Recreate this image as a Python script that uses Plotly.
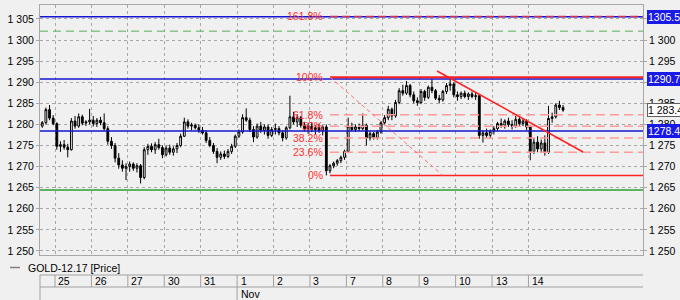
import plotly.graph_objects as go

# ---------------- data ----------------
day_labels = ["25", "26", "27", "30", "31", "1", "2", "3", "7", "8", "9", "10", "13", "14"]
month_label = "Nov"
month_day_index = 5
bars_per_day = 10
first_day_bars = 4  # partial session of the 24th

opens = [
    1279.6, 1280.4, 1283.5, 1281.5,
    1280.2, 1274.8, 1275.2, 1274.6, 1274.0, 1280.8, 1279.6, 1281.8, 1280.3, 1280.6,
    1281.0, 1280.2, 1281.0, 1280.4, 1279.0, 1276.0, 1275.0, 1272.0, 1270.4, 1269.6,
    1270.0, 1270.6, 1269.6, 1270.2, 1267.4, 1274.0, 1274.8, 1274.0, 1275.2, 1274.5,
    1272.8, 1274.4, 1273.4, 1274.2, 1275.0, 1277.2, 1280.6, 1279.6, 1279.8, 1279.2,
    1278.6, 1278.0, 1276.2, 1275.0, 1273.6, 1272.2, 1273.0, 1272.4, 1273.6, 1274.8,
    1277.2, 1278.2, 1281.6, 1281.0, 1278.8, 1277.0, 1279.6, 1278.6, 1279.4, 1277.4,
    1278.8, 1279.0, 1278.0, 1276.8, 1279.2, 1281.8, 1280.6, 1281.6, 1279.8, 1279.0,
    1279.6, 1278.8, 1279.2, 1278.6, 1279.4, 1269.0, 1270.2, 1270.8, 1271.4, 1272.2,
    1273.6, 1279.6, 1278.8, 1279.4, 1279.0, 1279.8, 1276.8, 1277.8, 1276.9, 1278.2,
    1280.4, 1281.6, 1283.6, 1282.0, 1285.2, 1288.0, 1287.4, 1289.2, 1287.0, 1285.6,
    1285.2, 1287.8, 1286.4, 1288.8, 1288.0, 1286.2, 1285.8, 1287.8, 1289.2, 1289.6,
    1287.0, 1286.6, 1287.4, 1286.6, 1287.2, 1286.6, 1286.8, 1277.4, 1278.0, 1277.4,
    1278.4, 1279.0, 1280.2, 1279.8, 1280.8, 1280.0, 1279.6, 1281.2, 1280.2, 1280.8,
    1279.4, 1273.6, 1275.8, 1274.2, 1275.6, 1273.4, 1281.4, 1281.8, 1284.6, 1284.0,
]
highs = [
    1280.8, 1284.0, 1284.6, 1282.2,
    1280.5, 1276.0, 1276.3, 1275.4, 1281.5, 1282.0, 1282.6, 1282.3, 1281.0, 1283.7,
    1282.0, 1281.5, 1281.8, 1282.6, 1279.6, 1277.0, 1275.6, 1273.2, 1271.5, 1270.8,
    1271.2, 1271.0, 1270.8, 1270.6, 1274.6, 1275.4, 1275.5, 1275.8, 1276.6, 1275.0,
    1275.0, 1275.2, 1274.8, 1275.6, 1277.8, 1281.6, 1281.2, 1280.4, 1280.2, 1280.0,
    1279.4, 1278.6, 1277.0, 1275.6, 1274.4, 1273.6, 1273.8, 1274.2, 1275.4, 1277.6,
    1278.8, 1282.4, 1283.8, 1281.6, 1279.6, 1280.2, 1280.6, 1280.0, 1280.0, 1279.4,
    1280.2, 1279.6, 1278.6, 1279.6, 1286.8, 1283.0, 1282.4, 1282.0, 1280.6, 1280.4,
    1280.6, 1279.8, 1280.2, 1279.8, 1280.0, 1270.6, 1271.2, 1271.8, 1272.6, 1274.0,
    1281.6, 1280.4, 1280.0, 1280.2, 1282.6, 1280.2, 1278.4, 1278.2, 1278.6, 1280.8,
    1282.2, 1284.4, 1284.0, 1285.8, 1288.6, 1289.4, 1290.3, 1289.6, 1287.8, 1286.4,
    1288.4, 1288.2, 1289.2, 1290.8, 1288.4, 1287.0, 1288.2, 1289.8, 1290.8, 1290.0,
    1287.8, 1287.8, 1288.0, 1287.6, 1287.8, 1287.6, 1287.2, 1278.6, 1279.0, 1278.8,
    1279.6, 1280.6, 1281.4, 1281.2, 1281.6, 1281.0, 1282.0, 1281.8, 1281.4, 1281.2,
    1279.8, 1276.8, 1277.2, 1276.4, 1277.4, 1284.4, 1282.8, 1285.0, 1285.6, 1284.6,
]
lows = [
    1279.2, 1280.0, 1281.0, 1279.8,
    1274.0, 1273.5, 1274.0, 1272.2, 1273.8, 1279.0, 1279.2, 1279.8, 1279.6, 1280.0,
    1279.5, 1279.4, 1279.8, 1278.5, 1275.2, 1274.2, 1271.0, 1269.5, 1268.8, 1266.8,
    1268.8, 1269.0, 1268.6, 1266.0, 1267.0, 1272.8, 1273.4, 1273.0, 1274.0, 1272.0,
    1272.4, 1272.8, 1272.6, 1273.2, 1274.6, 1277.0, 1279.0, 1278.6, 1278.8, 1278.0,
    1277.6, 1275.6, 1274.6, 1273.0, 1270.8, 1271.6, 1271.8, 1272.0, 1273.0, 1274.4,
    1276.8, 1277.8, 1280.6, 1278.2, 1275.8, 1276.6, 1278.0, 1277.6, 1276.6, 1277.0,
    1277.6, 1277.4, 1276.0, 1276.4, 1278.8, 1280.0, 1279.4, 1279.2, 1278.4, 1277.8,
    1278.2, 1277.6, 1278.0, 1277.4, 1267.9, 1268.4, 1269.6, 1270.2, 1270.8, 1271.6,
    1273.2, 1278.4, 1278.2, 1278.4, 1278.6, 1275.0, 1276.2, 1276.4, 1276.4, 1277.8,
    1279.8, 1281.0, 1281.0, 1281.6, 1284.8, 1286.8, 1287.0, 1286.4, 1285.0, 1284.4,
    1284.8, 1285.6, 1286.0, 1287.4, 1285.8, 1285.0, 1285.4, 1287.2, 1288.0, 1286.4,
    1285.6, 1286.0, 1286.2, 1285.8, 1286.2, 1285.8, 1276.6, 1275.7, 1276.8, 1276.6,
    1277.6, 1278.4, 1279.2, 1279.0, 1279.4, 1278.8, 1279.2, 1279.6, 1279.6, 1278.6,
    1271.5, 1273.0, 1273.4, 1273.4, 1272.6, 1273.0, 1280.4, 1281.4, 1283.4, 1283.0,
]
closes = [
    1280.4, 1283.5, 1281.5, 1280.2,
    1274.8, 1275.2, 1274.6, 1274.0, 1280.8, 1279.6, 1281.8, 1280.3, 1280.6, 1281.0,
    1280.2, 1281.0, 1280.4, 1279.0, 1276.0, 1275.0, 1272.0, 1270.4, 1269.6, 1270.0,
    1270.6, 1269.6, 1270.2, 1267.4, 1274.0, 1274.8, 1274.0, 1275.2, 1274.5, 1272.8,
    1274.4, 1273.4, 1274.2, 1275.0, 1277.2, 1280.6, 1279.6, 1279.8, 1279.2, 1278.6,
    1278.0, 1276.2, 1275.0, 1273.6, 1272.2, 1273.0, 1272.4, 1273.6, 1274.8, 1277.2,
    1278.2, 1281.6, 1281.0, 1278.8, 1277.0, 1279.6, 1278.6, 1279.4, 1277.4, 1278.8,
    1279.0, 1278.0, 1276.8, 1279.2, 1281.8, 1280.6, 1281.6, 1279.8, 1279.0, 1279.6,
    1278.8, 1279.2, 1278.6, 1279.4, 1269.0, 1270.2, 1270.8, 1271.4, 1272.2, 1273.6,
    1279.6, 1278.8, 1279.4, 1279.0, 1279.8, 1276.8, 1277.8, 1276.9, 1278.2, 1280.4,
    1281.6, 1283.6, 1282.0, 1285.2, 1288.0, 1287.4, 1289.2, 1287.0, 1285.6, 1285.2,
    1287.8, 1286.4, 1288.8, 1288.0, 1286.2, 1285.8, 1287.8, 1289.2, 1289.6, 1287.0,
    1286.6, 1287.4, 1286.6, 1287.2, 1286.6, 1286.8, 1277.4, 1278.0, 1277.4, 1278.4,
    1279.0, 1280.2, 1279.8, 1280.8, 1280.0, 1279.6, 1281.2, 1280.2, 1280.8, 1279.4,
    1273.6, 1275.8, 1274.2, 1275.6, 1273.4, 1281.4, 1281.8, 1284.6, 1284.0, 1283.4,
]

y_ticks = [1250, 1255, 1260, 1265, 1270, 1275, 1280, 1285, 1290, 1295, 1300, 1305]
y_tick_text = ["1 250", "1 255", "1 260", "1 265", "1 270", "1 275", "1 280",
               "1 285", "1 290", "1 295", "1 300", "1 305"]

blue_levels = [1305.50, 1290.74, 1278.44]
green_dash_level = 1302.1
green_level = 1264.45
last_price = 1283.4

fib_low, fib_high = 1267.9, 1291.2
fib_ratios = [1.618, 1.0, 0.618, 0.5, 0.382, 0.236, 0.0]
fib_labels = ["161.8%", "100%", "61.8%", "50%", "38.2%", "23.6%", "0%"]
fib_start_d = 7.55
fib_diag_end_d = 10.65
trend_start = (10.49, 1292.65)
trend_end = (14.5, 1273.46)

# ---------------- positions ----------------
bar_x = [-1 + (k + 0.5) / bars_per_day for k in range(bars_per_day - first_day_bars, bars_per_day)]
for j in range(len(day_labels)):
    bar_x += [j + (k + 0.5) / bars_per_day for k in range(bars_per_day)]

X0, X1 = -0.412, 16.145
Y0, Y1 = 1249.05, 1308.3
FONT = "Liberation Sans, Arial, sans-serif"
GRID = "#a8a8a8"
BLUE = "#1414d2"
RED = "#ff2020"
PINK = "#ff9a9a"

fig = go.Figure()
fig.add_trace(go.Candlestick(
    x=bar_x, open=opens, high=highs, low=lows, close=closes,
    increasing=dict(line=dict(color="#000000", width=1), fillcolor="#ffffff"),
    decreasing=dict(line=dict(color="#000000", width=1), fillcolor="#000000"),
    whiskerwidth=0, showlegend=False, hoverinfo="skip",
))
fig.add_trace(go.Scatter(x=[X0], y=[Y0], yaxis="y2", mode="markers",
                         marker=dict(opacity=0), showlegend=False, hoverinfo="skip"))

shapes = []
# horizontal levels
for lv in blue_levels:
    shapes.append(dict(type="line", xref="x", yref="y", x0=X0, x1=X1, y0=lv, y1=lv,
                       line=dict(color=BLUE, width=1.5)))
shapes.append(dict(type="line", xref="x", yref="y", x0=X0, x1=X1, y0=green_dash_level, y1=green_dash_level,
                   line=dict(color="#5aac5a", width=1, dash="8px,5px")))
shapes.append(dict(type="line", xref="x", yref="y", x0=X0, x1=X1, y0=green_level, y1=green_level,
                   line=dict(color="#2ea02e", width=1.5)))

# fibonacci
fig_annots = []
for r, lab in zip(fib_ratios, fib_labels):
    lv = fib_low + r * (fib_high - fib_low)
    if r in (0.0, 1.0):
        ln = dict(color=RED, width=2 if r == 1.0 else 1.5)
    elif r > 1.0:
        ln = dict(color="#c8325a", width=1.5, dash="8px,4px")
    else:
        ln = dict(color=PINK, width=1.5, dash="9px,5px")
    shapes.append(dict(type="line", xref="x", yref="y", x0=fib_start_d, x1=X1, y0=lv, y1=lv, line=ln))
    fig_annots.append(dict(x=fib_start_d - 0.15, y=lv, xref="x", yref="y", text=lab, showarrow=False,
                           xanchor="right", yanchor="middle",
                           font=dict(family=FONT, size=10.5, color="#ff3030")))
shapes.append(dict(type="line", xref="x", yref="y", x0=fib_start_d, x1=fib_diag_end_d,
                   y0=fib_high, y1=fib_low, line=dict(color="#ff7070", width=1, dash="4px,3px")))
# trend line
shapes.append(dict(type="line", xref="x", yref="y", x0=trend_start[0], x1=trend_end[0],
                   y0=trend_start[1], y1=trend_end[1], line=dict(color=RED, width=1.5)))

# bottom date strip
STRIP = "#a0a0a0"
shapes.append(dict(type="line", xref="paper", yref="paper", x0=0, x1=1, y0=-0.08, y1=-0.08,
                   line=dict(color=STRIP, width=1)))
shapes.append(dict(type="line", xref="paper", yref="paper", x0=0, x1=1, y0=-0.128, y1=-0.128,
                   line=dict(color=STRIP, width=1)))
shapes.append(dict(type="line", xref="paper", yref="paper", x0=0, x1=0, y0=-0.08, y1=-0.19,
                   line=dict(color=STRIP, width=1)))
for j, lab in enumerate(day_labels):
    y_bot = -0.19 if j == month_day_index else -0.128
    shapes.append(dict(type="line", xref="x", yref="paper", x0=j, x1=j, y0=-0.08, y1=y_bot,
                       line=dict(color=STRIP, width=1)))
    fig_annots.append(dict(x=j + 0.04, y=-0.104, xref="x", yref="paper", text=lab, showarrow=False,
                           xanchor="left", yanchor="middle", font=dict(family=FONT, size=10.5, color="#000")))
fig_annots.append(dict(x=month_day_index + 0.04, y=-0.156, xref="x", yref="paper", text=month_label,
                       showarrow=False, xanchor="left", yanchor="middle",
                       font=dict(family=FONT, size=10.5, color="#000")))

# legend entry
shapes.append(dict(type="line", xref="paper", yref="paper", x0=-0.0498, x1=-0.0332, y0=-0.05, y1=-0.05,
                   line=dict(color="#808080", width=1.5)))
fig_annots.append(dict(x=-0.023, y=-0.05, xref="paper", yref="paper", text="GOLD-12.17 [Price]",
                       showarrow=False, xanchor="left", yanchor="middle",
                       font=dict(family=FONT, size=10.5, color="#000")))

# right price labels
for lv in blue_levels:
    fig_annots.append(dict(x=1.006, y=lv, xref="paper", yref="y", text=f"{lv:.2f}", showarrow=False,
                           xanchor="left", yanchor="middle", bgcolor="#1a1ae6", bordercolor="#1a1ae6",
                           borderpad=0, font=dict(family=FONT, size=10.5, color="#ffffff")))
fig_annots.append(dict(x=1.006, y=last_price, xref="paper", yref="y", text="1 283.40", showarrow=False,
                       xanchor="left", yanchor="middle", bgcolor="#ffffff", bordercolor="#606060",
                       borderpad=0, borderwidth=1, font=dict(family=FONT, size=10.5, color="#000")))

axis_common = dict(range=[Y0, Y1], tickvals=y_ticks, ticktext=y_tick_text, ticks="outside", ticklen=3,
                   tickcolor=GRID, tickfont=dict(family=FONT, size=10.5, color="#000"),
                   zeroline=False, automargin=False, fixedrange=True)

fig.update_layout(
    width=680, height=300,
    margin=dict(l=40, r=37, t=5, b=45),
    paper_bgcolor="#f0f0f0", plot_bgcolor="#f0f0f0",
    showlegend=False,
    xaxis=dict(range=[X0, X1], tickvals=list(range(len(day_labels))), showticklabels=False,
               ticks="", showgrid=True, gridcolor=GRID, griddash="dot", gridwidth=1,
               showline=True, linecolor=GRID, mirror=True, zeroline=False,
               rangeslider=dict(visible=False), automargin=False),
    yaxis=dict(side="left", showgrid=True, gridcolor=GRID, griddash="dot", gridwidth=1,
               showline=True, linecolor=GRID, mirror=True, **axis_common),
    yaxis2=dict(side="right", overlaying="y", showgrid=False, showline=False, **axis_common),
    shapes=shapes,
    annotations=fig_annots,
)

fig.write_html("out.html")
